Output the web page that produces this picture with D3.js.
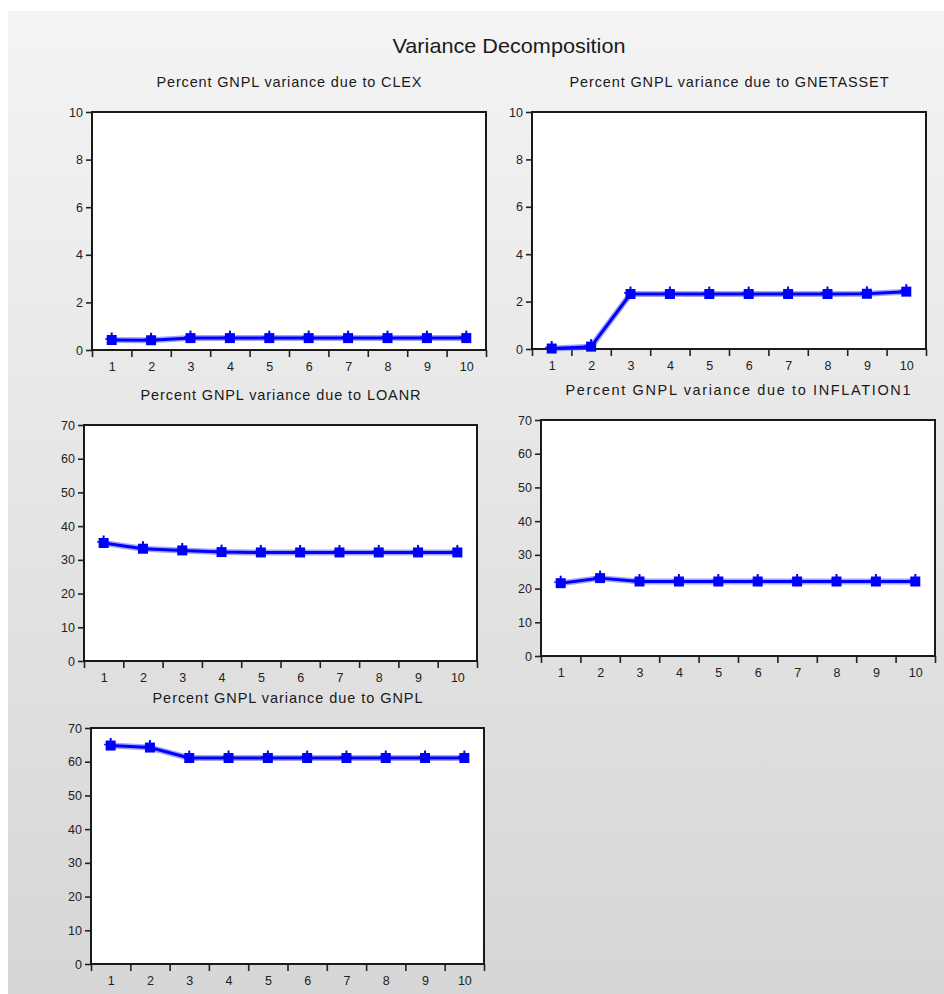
<!DOCTYPE html>
<html>
<head>
<meta charset="utf-8">
<script src="https://cdn.jsdelivr.net/npm/d3@7"></script>
<style>
html,body{margin:0;padding:0;background:#fff;}
svg{display:block;}
text{font-family:"Liberation Sans",Arial,sans-serif;}
</style>
</head>
<body>
<svg id="chart" width="944" height="994"></svg>
<script>
// ---- data ----
const mainTitle = "Variance Decomposition";
const periods = [1,2,3,4,5,6,7,8,9,10];
const panelTitles = [
  "Percent GNPL variance due to CLEX",
  "Percent GNPL variance due to GNETASSET",
  "Percent GNPL variance due to LOANR",
  "Percent GNPL variance due to INFLATION1",
  "Percent GNPL variance due to GNPL"
];
const clex       = [0.42, 0.41, 0.50, 0.50, 0.50, 0.50, 0.50, 0.50, 0.50, 0.50];
const gnetasset  = [0.02, 0.10, 2.32, 2.32, 2.32, 2.32, 2.32, 2.32, 2.33, 2.42];
const loanr      = [35.0, 33.3, 32.8, 32.3, 32.2, 32.2, 32.2, 32.2, 32.2, 32.2];
const inflation1 = [21.6, 23.1, 22.1, 22.1, 22.1, 22.1, 22.1, 22.1, 22.1, 22.1];
const gnpl       = [64.8, 64.2, 61.1, 61.1, 61.1, 61.1, 61.1, 61.1, 61.1, 61.1];
const seriesList = [clex, gnetasset, loanr, inflation1, gnpl];
const yTicksSmall = [0, 2, 4, 6, 8, 10];
const yTicksLarge = [0, 10, 20, 30, 40, 50, 60, 70];
const yTickSets = [yTicksSmall, yTicksSmall, yTicksLarge, yTicksLarge, yTicksLarge];

// ---- layout ----
const frames = [
  {x0: 92,  x1: 486, y0: 112, y1: 350, tw: 265},
  {x0: 532, x1: 926, y0: 112, y1: 349, tw: 319},
  {x0: 84,  x1: 477, y0: 425, y1: 661, tw: 280},
  {x0: 541, x1: 935, y0: 420, y1: 656, tw: 345},
  {x0: 91,  x1: 484, y0: 728, y1: 964, tw: 270}
];

const svg = d3.select("#chart");
const defs = svg.append("defs");
const grad = defs.append("linearGradient").attr("id","bg").attr("x1",0).attr("y1",0).attr("x2",0).attr("y2",1);
grad.append("stop").attr("offset","0%").attr("stop-color","#f4f4f4");
grad.append("stop").attr("offset","100%").attr("stop-color","#d6d6d6");

svg.append("rect").attr("x",8).attr("y",11).attr("width",936).attr("height",983).attr("fill","url(#bg)");

svg.append("text")
  .attr("x", 509).attr("y", 53)
  .attr("text-anchor","middle")
  .attr("font-size", 21)
  .attr("fill","#1a1a1a")
  .attr("textLength", 233).attr("lengthAdjust","spacingAndGlyphs")
  .text(mainTitle);

frames.forEach((f, i) => {
  const data = seriesList[i];
  const yt = yTickSets[i];
  const x = d3.scaleLinear().domain([0.5, 10.5]).range([f.x0, f.x1]);
  const y = d3.scaleLinear().domain([0, d3.max(yt)]).range([f.y1, f.y0]);
  const g = svg.append("g");

  // title
  g.append("text")
    .attr("x", (f.x0 + f.x1) / 2).attr("y", f.y0 - 25)
    .attr("text-anchor","middle")
    .attr("font-size", 14.5)
    .attr("fill","#1a1a1a")
    .attr("textLength", f.tw).attr("lengthAdjust","spacing")
    .text(panelTitles[i]);

  // plot area
  g.append("rect")
    .attr("x", f.x0).attr("y", f.y0)
    .attr("width", f.x1 - f.x0).attr("height", f.y1 - f.y0)
    .attr("fill","#fff");

  // y axis
  const yAxis = d3.axisLeft(y).tickValues(yt).tickSize(6).tickPadding(3).tickFormat(d3.format("d"));
  const ya = g.append("g").attr("transform", `translate(${f.x0},0)`).call(yAxis);
  ya.select(".domain").remove();
  ya.selectAll("line").attr("stroke","#222").attr("stroke-width",1.6);
  ya.selectAll("text").attr("font-size",12.5).attr("fill","#222").attr("font-family","Liberation Sans, Arial, sans-serif");

  // x axis tick marks at band edges
  const edges = periods.map(p => p - 0.5).concat([10.5]);
  const xTicks = d3.axisBottom(x).tickValues(edges).tickSize(7).tickFormat("");
  const xa = g.append("g").attr("transform", `translate(0,${f.y1})`).call(xTicks);
  xa.select(".domain").remove();
  xa.selectAll("line").attr("stroke","#222").attr("stroke-width",1.6);

  // x labels at centers
  const xLab = d3.axisBottom(x).tickValues(periods).tickSize(0).tickPadding(12).tickFormat(d3.format("d"));
  const xl = g.append("g").attr("transform", `translate(0,${f.y1})`).call(xLab);
  xl.select(".domain").remove();
  xl.selectAll("text").attr("font-size",12.5).attr("fill","#222").attr("font-family","Liberation Sans, Arial, sans-serif");

  // frame
  g.append("rect")
    .attr("x", f.x0).attr("y", f.y0)
    .attr("width", f.x1 - f.x0).attr("height", f.y1 - f.y0)
    .attr("fill","none").attr("stroke","#1a1a1a").attr("stroke-width",2);

  // series line
  const line = d3.line().x((d, j) => x(periods[j])).y(d => y(d));
  g.append("path").datum(data).attr("d", line)
    .attr("fill","none").attr("stroke","#5a5aff").attr("stroke-opacity",0.55).attr("stroke-width",6)
    .attr("stroke-linejoin","round");
  g.append("path").datum(data).attr("d", line)
    .attr("fill","none").attr("stroke","#0000ff").attr("stroke-width",3)
    .attr("stroke-linejoin","round");

  // markers
  const m = g.selectAll(".mk").data(data).enter().append("g")
    .attr("transform", (d, j) => `translate(${x(periods[j])},${y(d)})`);
  m.append("rect").attr("x",-5).attr("y",-5).attr("width",10).attr("height",10).attr("fill","#0000ff");
  m.append("line").attr("x1",0).attr("x2",0).attr("y1",-7.5).attr("y2",0).attr("stroke","#0000ff").attr("stroke-width",2);
  m.append("line").attr("x1",-6.5).attr("x2",0).attr("y1",-1).attr("y2",-1).attr("stroke","#0000ff").attr("stroke-width",1.5);
});
</script>
</body>
</html>
